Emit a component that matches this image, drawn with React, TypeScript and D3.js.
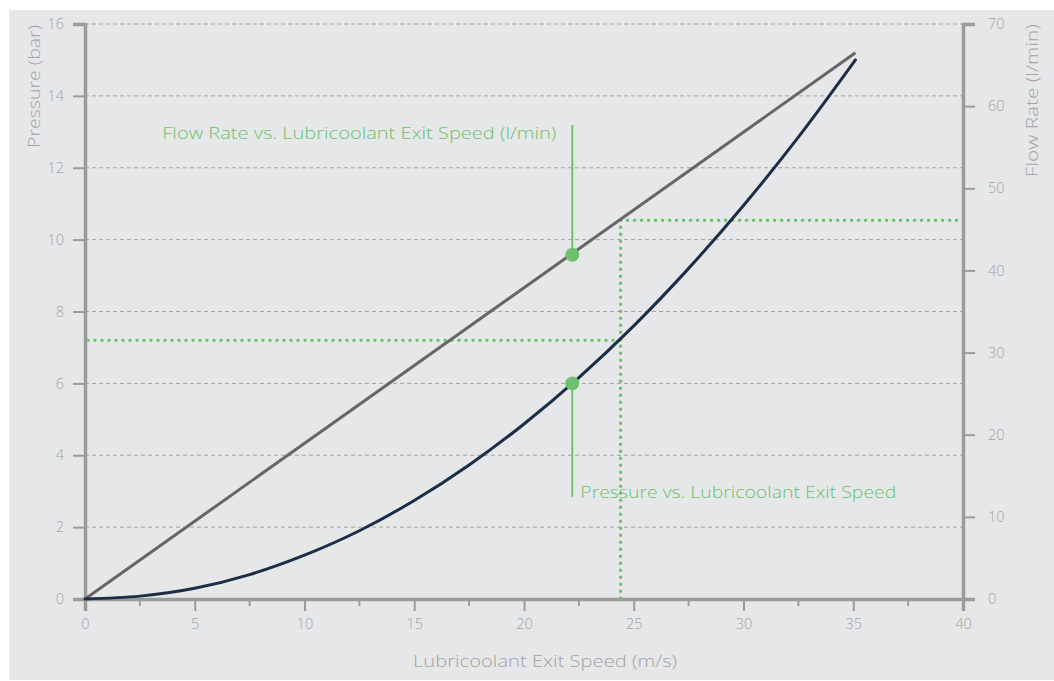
import * as d3 from "d3";
import { useEffect, useRef } from "react";

// lubricoolant exit speed (m/s) vs pressure (bar)
const speeds = [0, 2.5, 5, 7.5, 10, 12.5, 15, 17.5, 20, 22.5, 25, 27.5, 30, 32.5, 35.1];
const pressures = [0, 0.08, 0.3, 0.68, 1.22, 1.9, 2.74, 3.73, 4.87, 6.16, 7.6, 9.2, 10.95, 12.85, 15.0];

// flow rate (l/min) is a straight line
const flowSpeeds = [0, 35.1];
const flowRates = [0, 66.5];

// highlighted points and the reference reading
const markerSpeed = 22.2;
const markerPressure = 6.0;
const markerFlow = 41.9;
const refSpeed = 24.4;
const refPressure = 7.2;
const refFlow = 46.1;

const pressureTicks = [0, 2, 4, 6, 8, 10, 12, 14, 16];
const flowTicks = [0, 10, 20, 30, 40, 50, 60, 70];
const speedTicks = [0, 5, 10, 15, 20, 25, 30, 35, 40];
const speedMinorTicks = [2.5, 7.5, 12.5, 17.5, 22.5, 27.5, 32.5, 37.5];

const flowLabel = "Flow Rate vs. Lubricoolant Exit Speed (l/min)";
const pressureLabel = "Pressure vs. Lubricoolant Exit Speed";

const App = () => {
  const ref = useRef<SVGSVGElement | null>(null);

  useEffect(() => {
    const svg = d3.select(ref.current);
    svg.selectAll("*").remove();

    const width = 1054,
      height = 681;
    const margin = { top: 24, right: 91, bottom: 82, left: 85 };
    const font = "'Open Sans', Lato, sans-serif";
    const axisGray = "#9b9b9b";
    const textGray = "#a3a3a3";
    const green = "#6cc26e";

    svg
      .append("rect")
      .attr("x", 9)
      .attr("y", 10)
      .attr("width", width - 9)
      .attr("height", 670)
      .attr("fill", "#e6e7e9");

    const x = d3
      .scaleLinear()
      .domain([0, 40])
      .range([margin.left, width - margin.right]);
    const yP = d3
      .scaleLinear()
      .domain([0, 16])
      .range([height - margin.bottom, margin.top]);
    const yF = d3
      .scaleLinear()
      .domain([0, 70])
      .range([height - margin.bottom, margin.top]);

    // grid
    svg
      .append("g")
      .selectAll("line")
      .data(pressureTicks.filter((t) => t > 0))
      .join("line")
      .attr("x1", x(0))
      .attr("x2", x(40))
      .attr("y1", (d) => yP(d))
      .attr("y2", (d) => yP(d))
      .attr("stroke", "#a4a4a4")
      .attr("stroke-width", 1)
      .attr("stroke-dasharray", "4 3");

    const styleAxis = (g: d3.Selection<SVGGElement, unknown, null, undefined>) => {
      g.select(".domain").attr("stroke", axisGray).attr("stroke-width", 3.5);
      g.selectAll(".tick line").attr("stroke", axisGray).attr("stroke-width", 2);
      g.selectAll(".tick text")
        .attr("fill", textGray)
        .style("font-family", font)
        .style("font-size", "14.5px")
        .style("font-weight", 300);
    };

    // minor x ticks
    svg
      .append("g")
      .selectAll("line")
      .data(speedMinorTicks)
      .join("line")
      .attr("x1", (d) => x(d))
      .attr("x2", (d) => x(d))
      .attr("y1", yP(0))
      .attr("y2", yP(0) + 7)
      .attr("stroke", axisGray)
      .attr("stroke-width", 2);

    svg
      .append("g")
      .attr("transform", `translate(0,${yP(0)})`)
      .call(
        d3.axisBottom(x).tickValues(speedTicks).tickSize(12).tickSizeOuter(12).tickPadding(8)
      )
      .call(styleAxis);

    svg
      .append("g")
      .attr("transform", `translate(${x(0)},0)`)
      .call(
        d3.axisLeft(yP).tickValues(pressureTicks).tickSize(12).tickSizeOuter(12).tickPadding(9)
      )
      .call(styleAxis);

    svg
      .append("g")
      .attr("transform", `translate(${x(40)},0)`)
      .call(
        d3.axisRight(yF).tickValues(flowTicks).tickSize(12).tickSizeOuter(12).tickPadding(13)
      )
      .call(styleAxis);

    const addText = (
      tx: number,
      ty: number,
      rotate: number,
      anchor: string,
      color: string,
      len: number,
      label: string
    ) =>
      svg
        .append("text")
        .attr("transform", `translate(${tx},${ty}) rotate(${rotate})`)
        .attr("text-anchor", anchor)
        .attr("fill", color)
        .attr("textLength", len)
        .attr("lengthAdjust", "spacingAndGlyphs")
        .style("font-family", font)
        .style("font-size", "16.5px")
        .style("font-weight", 300)
        .text(label);

    // axis titles
    addText(545, 667, 0, "middle", textGray, 264, "Lubricoolant Exit Speed (m/s)");
    addText(40, yP(16) + 1, -90, "end", textGray, 123, "Pressure (bar)");
    addText(1038, yF(70), -90, "end", textGray, 153, "Flow Rate (l/min)");

    // reference dotted lines
    const dotted = svg
      .append("g")
      .attr("stroke", green)
      .attr("stroke-width", 3.5)
      .attr("stroke-linecap", "round")
      .attr("stroke-dasharray", "0 7");
    dotted
      .append("line")
      .attr("x1", x(0) + 3)
      .attr("x2", x(refSpeed))
      .attr("y1", yP(refPressure))
      .attr("y2", yP(refPressure));
    dotted
      .append("line")
      .attr("x1", x(refSpeed))
      .attr("x2", x(refSpeed))
      .attr("y1", yF(refFlow))
      .attr("y2", yP(0));
    dotted
      .append("line")
      .attr("x1", x(refSpeed))
      .attr("x2", x(40))
      .attr("y1", yF(refFlow))
      .attr("y2", yF(refFlow));

    // flow rate line
    const flowData = flowSpeeds.map((s, i) => [s, flowRates[i]] as [number, number]);
    svg
      .append("path")
      .datum(flowData)
      .attr("fill", "none")
      .attr("stroke", "#666666")
      .attr("stroke-width", 3)
      .attr(
        "d",
        d3
          .line<[number, number]>()
          .x((d) => x(d[0]))
          .y((d) => yF(d[1]))
      );

    // pressure curve
    const pressureData = speeds.map((s, i) => [s, pressures[i]] as [number, number]);
    svg
      .append("path")
      .datum(pressureData)
      .attr("fill", "none")
      .attr("stroke", "#1b2e45")
      .attr("stroke-width", 3)
      .attr("stroke-linecap", "round")
      .attr(
        "d",
        d3
          .line<[number, number]>()
          .x((d) => x(d[0]))
          .y((d) => yP(d[1]))
          .curve(d3.curveMonotoneX)
      );

    // annotations
    svg
      .append("line")
      .attr("x1", x(markerSpeed))
      .attr("x2", x(markerSpeed))
      .attr("y1", yF(57.7))
      .attr("y2", yF(markerFlow))
      .attr("stroke", green)
      .attr("stroke-width", 2);
    svg
      .append("line")
      .attr("x1", x(markerSpeed))
      .attr("x2", x(markerSpeed))
      .attr("y1", yP(markerPressure))
      .attr("y2", yP(2.84))
      .attr("stroke", green)
      .attr("stroke-width", 2);

    svg
      .append("circle")
      .attr("cx", x(markerSpeed))
      .attr("cy", yF(markerFlow))
      .attr("r", 7)
      .attr("fill", green);
    svg
      .append("circle")
      .attr("cx", x(markerSpeed))
      .attr("cy", yP(markerPressure))
      .attr("r", 7)
      .attr("fill", green);

    addText(x(markerSpeed) - 16, yF(57.7) + 14, 0, "end", green, 394, flowLabel);
    addText(x(markerSpeed) + 8, yP(2.84) + 1, 0, "start", green, 316, pressureLabel);
  }, []);

  return (
    <svg
      ref={ref}
      width={1054}
      height={681}
      style={{ position: "absolute", left: 0, top: 0, display: "block" }}
    ></svg>
  );
};

export default App;
